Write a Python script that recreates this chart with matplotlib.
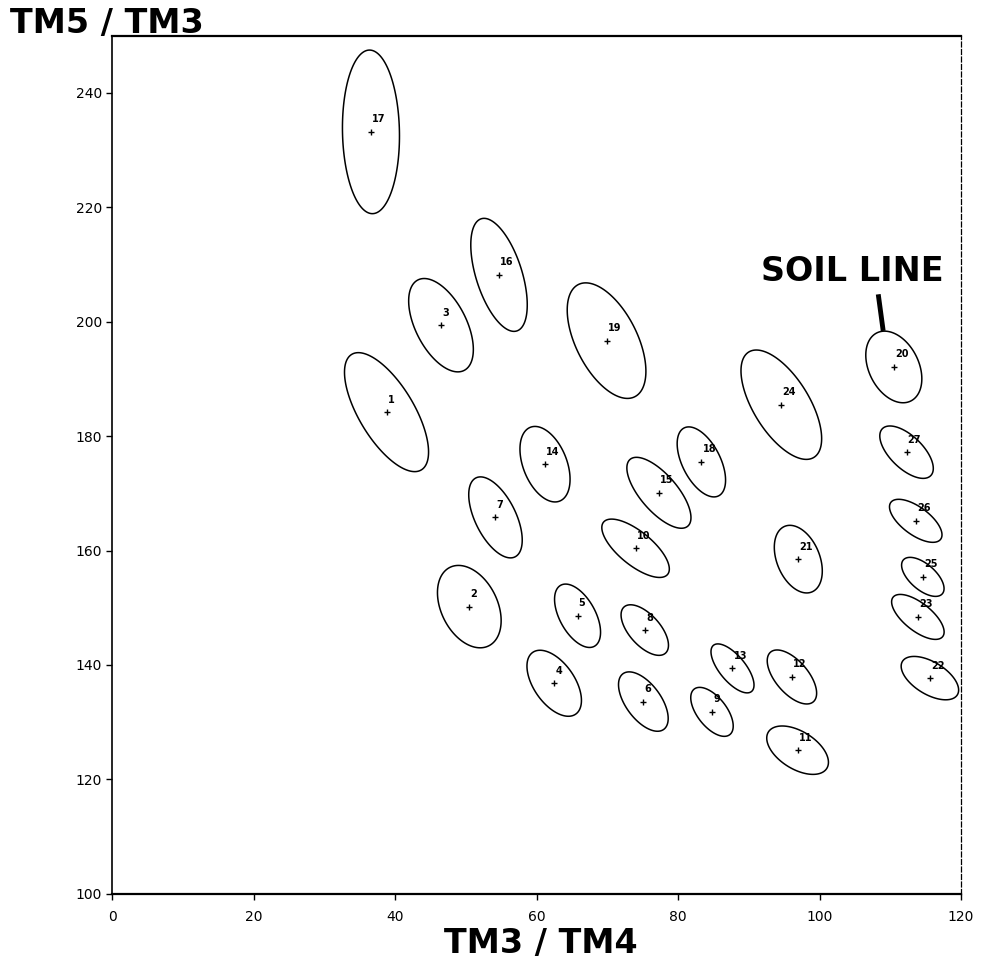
import numpy as np
import matplotlib
matplotlib.use("Agg")
import matplotlib.pyplot as plt
from matplotlib.patches import Polygon

# ---- data ----
class_ids = [str(i) for i in range(1, 28)]
center_x = [38.8, 50.5, 46.5, 62.5, 65.8, 75.1, 54.2, 75.3, 84.8, 74.0,
            96.9, 96.1, 87.7, 61.2, 77.3, 54.7, 36.6, 83.3, 69.9, 110.5,
            97.0, 115.6, 113.9, 94.6, 114.6, 113.6, 112.3]
center_y = [184.2, 150.2, 199.4, 136.8, 148.6, 133.6, 165.8, 146.1, 131.8, 160.4,
            125.1, 137.9, 139.4, 175.1, 170.1, 208.2, 233.2, 175.5, 196.7, 192.1,
            158.5, 137.7, 148.4, 185.5, 155.4, 165.2, 177.2]
spread_x = [5.94, 4.5, 4.57, 3.85, 3.25, 3.51, 3.78, 3.35, 3.0, 4.77,
            4.36, 3.49, 3.04, 3.54, 4.53, 3.99, 4.03, 3.42, 5.56, 3.96,
            3.39, 4.06, 3.71, 5.7, 3.0, 3.71, 3.78]
spread_y = [10.4, 7.2, 8.16, 5.77, 5.54, 5.19, 7.08, 4.42, 4.28, 5.1,
            4.23, 4.72, 4.28, 6.6, 6.2, 9.88, 14.3, 6.12, 10.1, 6.26,
            5.91, 3.79, 3.93, 9.56, 3.41, 3.76, 4.58]
corr = [-0.67, -0.34, -0.52, -0.52, -0.52, -0.57, -0.56, -0.6, -0.58, -0.71,
        -0.5, -0.6, -0.68, -0.4, -0.7, -0.53, -0.05, -0.52, -0.53, -0.33,
        -0.35, -0.55, -0.67, -0.62, -0.6, -0.65, -0.62]

x_ticks = [0, 20, 40, 60, 80, 100, 120]
y_ticks = [100, 120, 140, 160, 180, 200, 220, 240]
x_title = "TM3 / TM4"
y_title = "TM5 / TM3"
note_text = "SOIL LINE"

fig = plt.figure(figsize=(9.93, 9.72), dpi=100)
ax = fig.add_axes([0.1128, 0.0805, 0.855, 0.8827])
ax.set_xlim(0, 120)
ax.set_ylim(100, 250)

t = np.linspace(0, 2 * np.pi, 180, endpoint=False)
for cid, cx, cy, sx, sy, r in zip(class_ids, center_x, center_y, spread_x, spread_y, corr):
    ex = cx + sx * np.cos(t)
    ey = cy + sy * (r * np.cos(t) + np.sqrt(1 - r * r) * np.sin(t))
    ax.add_patch(Polygon(np.column_stack([ex, ey]), closed=True, fill=False,
                         edgecolor="black", lw=1.1, joinstyle="round"))
    ax.plot(cx, cy, marker="+", color="black", ms=5, mew=1.0)
    ax.annotate(cid, (cx, cy), xytext=(0.8, 9), textcoords="offset points",
                ha="left", va="center", fontsize=7, fontweight="bold")

# soil line annotation
ax.text(104.6, 208.8, note_text, ha="center", va="center", fontsize=24,
        fontweight="bold", family="DejaVu Sans")
ax.plot([108.3, 109.0], [204.8, 198.4], color="black", lw=3.5, solid_capstyle="butt")

ax.set_xticks(x_ticks)
ax.set_yticks(y_ticks)
ax.tick_params(axis="both", direction="out", length=4, width=1, labelsize=10, pad=3)
ax.tick_params(axis="x", pad=8)

for side in ["top", "bottom"]:
    ax.spines[side].set_linewidth(1.6)
ax.spines["left"].set_linewidth(1.2)
ax.spines["right"].set_linewidth(0.9)
ax.spines["right"].set_linestyle((0, (4, 2)))

fig.text(0.010, 0.976, y_title, ha="left", va="center", fontsize=24, fontweight="bold")
fig.text(0.545, 0.029, x_title, ha="center", va="center", fontsize=24, fontweight="bold")

fig.savefig("out.png", dpi=100, facecolor="white")
